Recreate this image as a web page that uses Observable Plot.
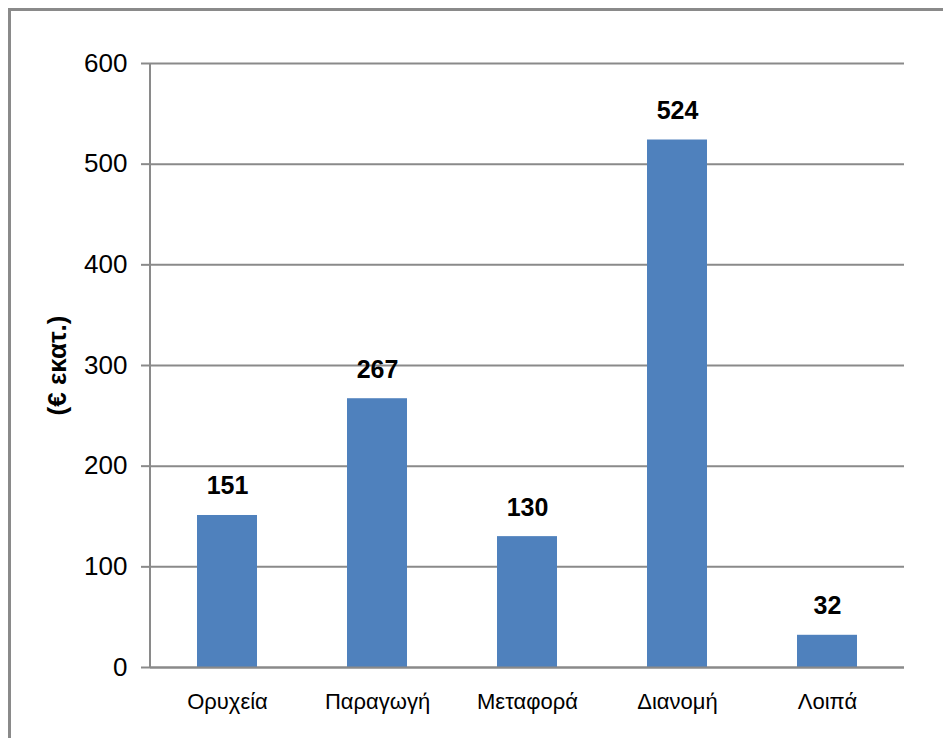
<!DOCTYPE html>
<html>
<head>
<meta charset="utf-8">
<script src="https://cdn.jsdelivr.net/npm/d3@7"></script>
<script src="https://cdn.jsdelivr.net/npm/@observablehq/plot@0.6"></script>
<style>
  html, body { margin: 0; padding: 0; background: #fff; }
  #wrap { position: relative; width: 943px; height: 738px; overflow: hidden; }
  #frame { position: absolute; left: 8px; top: 8px; width: 1000px; height: 800px;
           border-left: 3px solid #8a8a8a; border-top: 3px solid #8a8a8a; box-sizing: border-box; pointer-events: none; }
  svg { position: absolute; left: 0; top: 0; }
</style>
</head>
<body>
<div id="wrap"><div id="frame"></div></div>
<script>
const categories = ["Ορυχεία", "Παραγωγή", "Μεταφορά", "Διανομή", "Λοιπά"];
const values = [151, 267, 130, 524, 32];
const yTicks = [0, 100, 200, 300, 400, 500, 600];
const yLabel = "(€ εκατ.)";

const data = categories.map((c, i) => ({category: c, value: values[i]}));
const gridColor = "#8a8a8a";

const leftLine = (index, scales, values, dims) => {
  const ns = "http://www.w3.org/2000/svg";
  const l = document.createElementNS(ns, "line");
  l.setAttribute("x1", dims.marginLeft);
  l.setAttribute("x2", dims.marginLeft);
  l.setAttribute("y1", scales.y(600));
  l.setAttribute("y2", scales.y(0));
  l.setAttribute("stroke", gridColor);
  l.setAttribute("stroke-width", 2);
  return l;
};

const chart = Plot.plot({
  width: 943,
  height: 738,
  marginLeft: 150,
  marginRight: 39,
  marginTop: 63,
  marginBottom: 71,
  style: {fontFamily: "Liberation Sans, Arial, sans-serif", background: "transparent", overflow: "visible"},
  x: {domain: categories, paddingInner: 0.6, paddingOuter: 0.3, label: null},
  y: {domain: [0, 600], ticks: yTicks, label: null},
  marks: [
    Plot.gridY(yTicks, {stroke: gridColor, strokeOpacity: 1, strokeWidth: 2}),
    Plot.barY(data, {x: "category", y: "value", fill: "#4F81BD"}),
    Plot.ruleY([0], {stroke: gridColor, strokeWidth: 2}),
    leftLine,
    Plot.axisY(yTicks, {tickSize: 9, tickPadding: 14, stroke: gridColor, strokeWidth: 2, strokeOpacity: 1,
      fontSize: 26, fill: "#000", label: null, tickFormat: d => String(d)}),
    Plot.axisX({tickSize: 0, tickPadding: 26, fontSize: 22, fill: "#000", label: null}),
    Plot.text(data, {x: "category", y: "value", text: d => String(d.value), dy: -29,
      fontSize: 25, fontWeight: "bold", fill: "#000"}),
    Plot.text([yLabel], {frameAnchor: "left", textAnchor: "middle", dx: -93, rotate: -90,
      fontSize: 26, fontWeight: "bold", fill: "#000"})
  ]
});
document.getElementById("wrap").appendChild(chart);
</script>
</body>
</html>
